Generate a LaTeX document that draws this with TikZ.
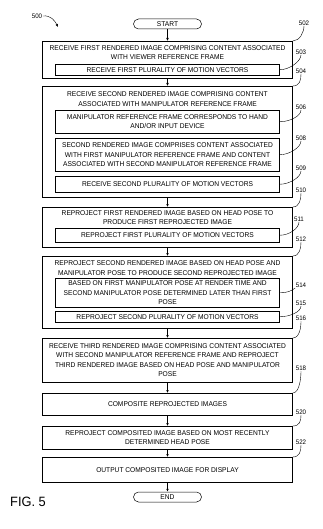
\documentclass[tikz,border=0pt]{standalone}
\usepackage{fontspec}
\setmainfont{Liberation Sans}[FakeStretch=0.95]
\usetikzlibrary{arrows.meta}
\begin{document}
\begin{tikzpicture}[x=1pt,y=-1pt,
  font=\fontsize{7}{9.4}\selectfont,
  box/.style={draw, line width=0.5pt, minimum width=250pt, anchor=north, inner sep=0pt, align=center},
  ibox/.style={draw, line width=0.5pt, minimum width=224pt, anchor=north, inner sep=0pt, align=center},
  txt/.style={align=center, inner sep=0pt},
  term/.style={draw, line width=0.5pt, rounded corners=5pt, minimum width=68pt, minimum height=10pt, inner sep=0pt},
  lbl/.style={font=\fontsize{6.5}{7}\selectfont, inner sep=0.5pt},
  arr/.style={-{Latex[length=3pt,width=2.6pt]}, line width=0.5pt},
  lead/.style={line width=0.4pt}]
\useasboundingbox (0,0) rectangle (323,529);

% terminals
\node[term] (start) at (167.5,24) {START};
\node[term] (end) at (167.5,497) {END};

% box 502
\node[box, minimum height=37pt] (b1) at (167.5,41) {};
\node[txt] (t1) at (167.5,52.5) {RECEIVE FIRST RENDERED IMAGE COMPRISING CONTENT ASSOCIATED\\WITH VIEWER REFERENCE FRAME};
\node[ibox, minimum height=11pt] (i503) at (167.5,64) {RECEIVE FIRST PLURALITY OF MOTION VECTORS};

% box 504
\node[box, minimum height=111pt] (b2) at (167.5,86) {};
\node[txt] (t2) at (167.5,99) {RECEIVE SECOND RENDERED IMAGE COMPRISING CONTENT\\ASSOCIATED WITH MANIPULATOR REFERENCE FRAME};
\node[ibox, minimum height=23pt] (i506) at (167.5,110) {MANIPULATOR REFERENCE FRAME CORRESPONDS TO HAND\\AND/OR INPUT DEVICE};
\node[ibox, minimum height=33pt] (i508) at (167.5,138) {SECOND RENDERED IMAGE COMPRISES CONTENT ASSOCIATED\\WITH FIRST MANIPULATOR REFERENCE FRAME AND CONTENT\\ASSOCIATED WITH SECOND MANIPULATOR REFERENCE FRAME};
\node[ibox, minimum height=16pt] (i509) at (167.5,176) {RECEIVE SECOND PLURALITY OF MOTION VECTORS};

% box 510
\node[box, minimum height=40pt] (b3) at (167.5,207) {};
\node[txt] (t3) at (167.5,217.5) {REPROJECT FIRST RENDERED IMAGE BASED ON HEAD POSE TO\\PRODUCE FIRST REPROJECTED IMAGE};
\node[ibox, minimum height=14pt] (i511) at (167.5,228) {REPROJECT FIRST PLURALITY OF MOTION VECTORS};

% box 512
\node[box, minimum height=72pt] (b4) at (167.5,256) {};
\node[txt] (t4) at (167.5,268) {REPROJECT SECOND RENDERED IMAGE BASED ON HEAD POSE AND\\MANIPULATOR POSE TO PRODUCE SECOND REPROJECTED IMAGE};
\node[ibox, minimum height=29pt] (i514) at (167.5,278) {BASED ON FIRST MANIPULATOR POSE AT RENDER TIME AND\\SECOND MANIPULATOR POSE DETERMINED LATER THAN FIRST\\POSE};
\node[ibox, minimum height=11pt] (i515) at (167.5,311) {REPROJECT SECOND PLURALITY OF MOTION VECTORS};

% remaining boxes
\node[box, minimum height=44pt] (b5) at (167.5,338) {RECEIVE THIRD RENDERED IMAGE COMPRISING CONTENT ASSOCIATED\\WITH SECOND MANIPULATOR REFERENCE FRAME AND REPROJECT\\THIRD RENDERED IMAGE BASED ON HEAD POSE AND MANIPULATOR\\POSE};
\node[box, minimum height=22pt] (b6) at (167.5,393) {COMPOSITE REPROJECTED IMAGES};
\node[box, minimum height=23pt] (b7) at (167.5,426) {REPROJECT COMPOSITED IMAGE BASED ON MOST RECENTLY\\DETERMINED HEAD POSE};
\node[box, minimum height=25pt] (b8) at (167.5,457) {OUTPUT COMPOSITED IMAGE FOR DISPLAY};

% flow arrows
\draw[arr] (start.south) -- (b1.north);
\draw[arr] (b1.south) -- (b2.north);
\draw[arr] (b2.south) -- (b3.north);
\draw[arr] (b3.south) -- (b4.north);
\draw[arr] (b4.south) -- (b5.north);
\draw[arr] (b5.south) -- (b6.north);
\draw[arr] (b6.south) -- (b7.north);
\draw[arr] (b7.south) -- (b8.north);
\draw[arr] (b8.south) -- (end.north);

% reference labels
\node[lbl] (l502) at (304,23) {502};
\node[lbl] (l503) at (301,52) {503};
\node[lbl] (l504) at (301,71) {504};
\node[lbl] (l506) at (301,107) {506};
\node[lbl] (l508) at (301,138) {508};
\node[lbl] (l509) at (301,168) {509};
\node[lbl] (l510) at (301,190) {510};
\node[lbl] (l511) at (299,219) {511};
\node[lbl] (l512) at (301,239) {512};
\node[lbl] (l514) at (301,285) {514};
\node[lbl] (l515) at (301,303) {515};
\node[lbl] (l516) at (301,318) {516};
\node[lbl] (l518) at (301,368) {518};
\node[lbl] (l520) at (301,412) {520};
\node[lbl] (l522) at (301,442) {522};

% leaders from outer boxes (top-right corner)
\foreach \b/\l in {b1/l502, b2/l504, b3/l510, b4/l512, b5/l516, b6/l518, b7/l520, b8/l522}
  \draw[lead] (\b.north east) .. controls +(7,0) and +(0,6) .. (\l.south);
% leaders from inner boxes (right side)
\foreach \b/\l in {i503/l503, i506/l506, i508/l508, i509/l509, i511/l511, i515/l515}
  \draw[lead] (\b.east) .. controls +(10,0) and +(0,6) .. (\l.south);
\draw[lead] (i514.east) .. controls +(8,0) and +(-4,3) .. (l514.south west);

% figure number and 500
\node[lbl] (l500) at (37,16) {500};
\coordinate (c500) at (58,27);
\draw[-{Latex[length=3pt,width=2.6pt]}, line width=0.4pt] (l500.east) .. controls +(8,-1) and +(-3,-6) .. (c500);
\node[inner sep=0pt, font=\fontsize{13.5}{15}\selectfont] (fig) at (28,502) {FIG. 5};
\end{tikzpicture}
\end{document}
